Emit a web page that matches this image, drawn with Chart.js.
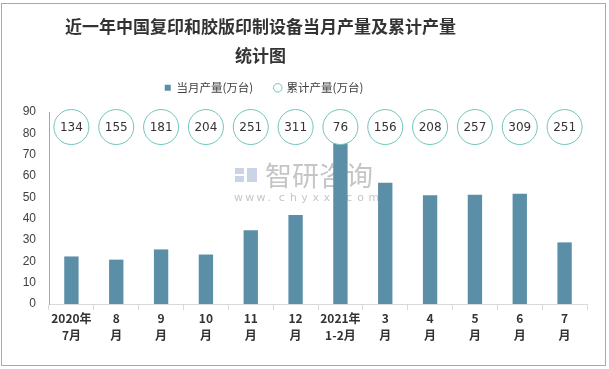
<!DOCTYPE html>
<html>
<head>
<meta charset="utf-8">
<script src="https://cdn.jsdelivr.net/npm/chart.js@4.4.1/dist/chart.umd.min.js"></script>
<style>
    html, body { margin: 0; padding: 0; background: #fff; }
    #wrap { position: relative; width: 609px; height: 369px; }
    #frame { position: absolute; left: 1px; top: 3px; width: 605px; height: 363px; border: 1px solid #a9a9a9; box-sizing: border-box; pointer-events: none; }
</style>
</head>
<body>
<div id="wrap">
    <canvas id="chart" width="609" height="369"></canvas>
    <div id="frame"></div>
</div>
<script>
// Dữ liệu biểu đồ
const categories = [
    ['2020年', '7月'], ['8', '月'], ['9', '月'], ['10', '月'], ['11', '月'], ['12', '月'],
    ['2021年', '1-2月'], ['3', '月'], ['4', '月'], ['5', '月'], ['6', '月'], ['7', '月']
];
const monthly = [22.3, 20.8, 25.6, 23.2, 34.6, 41.7, 75.5, 56.9, 51.0, 51.2, 51.7, 28.9];
const cumulative = [134, 155, 181, 204, 251, 311, 76, 156, 208, 257, 309, 251];
const yTicks = [0, 10, 20, 30, 40, 50, 60, 70, 80, 90];
const circleRow = 83; // hàng vòng tròn nằm ở mức 83 trên trục Y

const barColor = '#5b8fa7';
const ringColor = '#6fc4bc';

// Nhãn số bên trong vòng tròn (累计产量)
const cumLabels = {
    id: 'cumLabels',
    afterDatasetsDraw(chart) {
        const meta = chart.getDatasetMeta(1);
        const ctx = chart.ctx;
        ctx.save();
        ctx.font = '12px "DejaVu Sans"';
        ctx.fillStyle = '#333';
        ctx.textAlign = 'center';
        ctx.textBaseline = 'middle';
        meta.data.forEach((pt, i) => ctx.fillText(String(cumulative[i]), pt.x, pt.y + 1));
        ctx.restore();
    }
};

// Watermark 智研咨询
const watermark = {
    id: 'watermark',
    beforeDatasetsDraw(chart) {
        const ctx = chart.ctx;
        ctx.save();
        ctx.fillStyle = 'rgba(185,198,222,0.75)';
        ctx.fillRect(235, 168, 9, 6);
        ctx.fillRect(235, 176, 9, 6);
        ctx.fillRect(247, 168, 10, 14);
        ctx.fillStyle = 'rgba(150,150,150,0.55)';
        ctx.font = '27px "Noto Sans CJK SC"';
        ctx.textBaseline = 'middle';
        ctx.fillText('智研咨询', 265, 176);
        ctx.font = '11px "DejaVu Sans"';
        const site = 'www.chyxx.com';
        for (let i = 0; i < site.length; i++) {
            ctx.fillText(site[i], 234 + i * 11.2, 198);
        }
        ctx.restore();
    }
};

// Đưa tiêu đề và chú thích về giữa như bản gốc (lệch trái)
const shiftBoxes = {
    id: 'shiftBoxes',
    afterLayout(chart) {
        const t = chart.titleBlock;
        t.left = 0; t.right = 521;
        const l = chart.legend;
        l.left = 4; l.right = 524;
        l.top -= 8.5; l.bottom -= 8.5;
    }
};

const ctx = document.getElementById('chart');
new Chart(ctx.getContext('2d'), {
    data: {
        labels: categories,
        datasets: [{
            type: 'bar',
            label: '当月产量(万台)',
            data: monthly,
            backgroundColor: barColor,
            barPercentage: 0.64,
            categoryPercentage: 0.5,
            pointStyle: 'rect',
            order: 2
        }, {
            type: 'line',
            label: '累计产量(万台)',
            data: cumulative.map(() => circleRow),
            showLine: false,
            pointRadius: 17.5,
            pointHoverRadius: 17.5,
            pointBorderWidth: 1,
            pointBorderColor: ringColor,
            pointBackgroundColor: '#fff',
            borderColor: ringColor,
            backgroundColor: '#fff',
            pointStyle: 'circle',
            clip: false,
            order: 1
        }]
    },
    options: {
        responsive: false,
        animation: false,
        events: [],
        layout: { padding: { left: 10, right: 22, top: 11, bottom: 4 } },
        plugins: {
            title: {
                display: true,
                text: ['近一年中国复印和胶版印制设备当月产量及累计产量', '统计图'],
                color: '#333',
                font: { family: '"Noto Sans CJK SC"', size: 17, weight: 'bold', lineHeight: 1.65 },
                padding: { top: 2, bottom: 0 }
            },
            legend: {
                display: true,
                labels: {
                    usePointStyle: true,
                    boxWidth: 6,
                    boxHeight: 6,
                    padding: 21.5,
                    color: '#404040',
                    font: { family: '"Noto Sans CJK SC"', size: 11.5 },
                    sort: (a, b) => a.datasetIndex - b.datasetIndex
                }
            },
            tooltip: { enabled: false }
        },
        scales: {
            x: {
                grid: {
                    display: true,
                    offset: true,
                    drawOnChartArea: false,
                    tickLength: 6,
                    color: '#d9d9d9'
                },
                border: { color: '#d9d9d9' },
                ticks: {
                    color: '#333',
                    maxRotation: 0,
                    autoSkip: false,
                    padding: 0,
                    font: { family: '"Noto Sans CJK SC"', size: 12, weight: 'bold', lineHeight: 1.4 }
                },
                afterFit(scale) { scale.height = 61; }
            },
            y: {
                min: 0,
                max: 90,
                afterBuildTicks(scale) { scale.ticks = yTicks.map(v => ({ value: v })); },
                grid: { display: false, drawTicks: false },
                border: { display: true, color: '#a6a6a6' },
                ticks: {
                    color: '#404040',
                    padding: 13,
                    font: { family: '"Liberation Sans"', size: 12 }
                },
                afterFit(scale) { scale.width = 39; }
            }
        }
    },
    plugins: [watermark, cumLabels, shiftBoxes]
});
</script>
</body>
</html>
